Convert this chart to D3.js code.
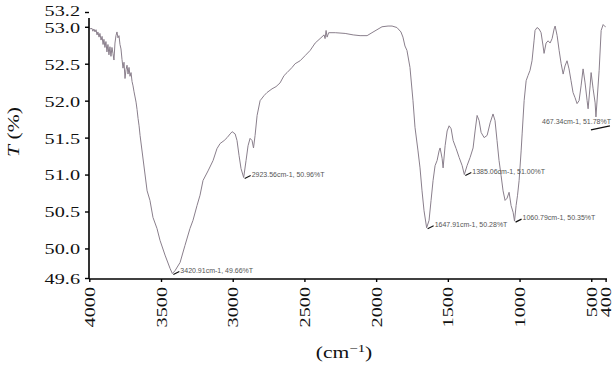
<!DOCTYPE html>
<html><head><meta charset="utf-8">
<script src="https://cdn.jsdelivr.net/npm/d3@7"></script>
<style>
html,body{margin:0;padding:0;background:#fff;}
svg{display:block;}
</style></head>
<body>
<svg id="c" width="613" height="368"></svg>
<script>
// ---- data ----
const wavenumber = [4000,3990,3982,3975,3968,3960,3953,3946,3940,3932,3926,3918,3911,3904,3898,3891,3884,3877,3870,3863,3856,3849,3842,3835,3828,3821,3814,3807,3800,3793,3786,3779,3772,3765,3758,3751,3744,3737,3730,3723,3716,3709,3702,3695,3688,3681,3674,3667,3660,3653,3646,
3597,3577,3556,3528,3507,3472,3437,3420.91,3402,3367,3333,3298,3277,3249,3228,3207,3172,3137,3110,3088,3060,3039,3018,3004,2983,2970,2956,2942,2923.56,2907,2893,2879,2865,2855,2844,2830,2809,2781,2761,2726,2698,2670,2642,2621,2586,2565,2530,2495,2460,2425,2391,2363,2356,2349,2342,2331,2285,2216,2160,2112,2063,2029,1994,1959,1917,1889,1855,1827,1813,1799,1785,1764,1743,1729,1708,1694,1680,1666,1647.91,1631,1617,1603,1589,1575,1561,1554,1540,1533,1519,1505,1491,1477,1463,1442,1421,1400,1385.06,1366,1345,1324,1310,1296,1282,1268,1247,1226,1205,1185,1171,1157,1143,1129,1115,1101,1087,1073,1059,1045,1035,1024,1014,1003,989,982,968,954,941,927,913,899,892,878,864,850,836,829,815,801,787,773,759,752,738,724,710,696,683,669,655,641,627,613,599,585,571,557,543,529,522,508,501,487,473,467.34,445,431,417,403,400];
const transmittance = [52.99,52.97,52.98,52.94,52.97,52.93,52.96,52.89,52.93,52.86,52.91,52.82,52.87,52.76,52.83,52.72,52.80,52.66,52.76,52.62,52.73,52.60,52.72,52.64,52.55,52.78,52.88,52.93,52.85,52.88,52.76,52.70,52.56,52.44,52.52,52.30,52.42,52.48,52.36,52.45,52.33,52.38,52.26,52.20,52.12,52.05,51.98,51.88,51.76,51.66,51.53,
50.78,50.65,50.42,50.27,50.11,49.91,49.73,49.66,49.70,49.81,50.04,50.27,50.38,50.58,50.72,50.92,51.05,51.19,51.35,51.42,51.46,51.50,51.55,51.58,51.55,51.46,51.26,51.08,50.96,51.19,51.39,51.49,51.46,51.36,51.53,51.80,52.00,52.07,52.11,52.16,52.19,52.24,52.34,52.38,52.45,52.50,52.54,52.61,52.68,52.78,52.84,52.89,52.84,52.95,52.86,52.92,52.92,52.91,52.89,52.88,52.88,52.92,52.96,53.00,53.01,53.01,52.99,52.93,52.86,52.74,52.68,52.45,52.00,51.64,51.32,51.09,50.78,50.51,50.28,50.38,50.65,50.92,51.12,51.19,51.32,51.36,51.22,51.09,51.39,51.59,51.66,51.62,51.46,51.35,51.23,51.12,51.00,51.12,51.23,51.36,51.59,51.80,51.73,51.57,51.50,51.53,51.70,51.82,51.73,51.46,51.19,50.99,50.78,50.65,50.68,50.76,50.58,50.49,50.37,50.58,50.72,50.92,51.32,51.55,52.00,52.27,52.34,52.41,52.54,52.81,52.95,52.99,52.97,52.92,52.74,52.64,52.78,52.81,52.78,52.84,52.97,53.01,52.88,52.68,52.50,52.36,52.47,52.54,52.43,52.27,52.11,52.04,51.96,52.00,52.20,52.43,52.24,52.00,51.89,52.20,52.38,52.16,51.97,51.78,52.41,52.95,53.03,53.00,53.00];

const peakWave = [3420.91, 2923.56, 1647.91, 1060.79, 1385.06, 467.34];
const peakT    = [49.66, 50.96, 50.28, 50.35, 51.00, 51.78];
const peakPlotWave = [3420.91, 2923.56, 1647.91, 1035, 1385.06, 467.34];
const peakPlotT    = [49.66, 50.96, 50.28, 50.37, 51.00, 51.78];
const peakLabel = ["3420.91cm-1, 49.66%T","2923.56cm-1, 50.96%T","1647.91cm-1, 50.28%T","1060.79cm-1, 50.35%T","1385.06cm-1, 51.00%T","467.34cm-1, 51.78%T"];

const xTicks = [4000,3500,3000,2500,2000,1500,1000,500,400];
const yTicks = [49.6,50.0,50.5,51.0,51.5,52.0,52.5,53.0,53.2];

// ---- chart ----
const svg = d3.select("#c");
const x = d3.scaleLinear().domain([4000,400]).range([89.3,605.6]);
const y = d3.scaleLinear().domain([49.6,53.2]).range([278,12]);
const SX = 1.35;
const serif = "'Liberation Serif','Times New Roman',serif";

// curve
svg.append("path")
  .datum(wavenumber.map((w,i)=>[w,transmittance[i]]))
  .attr("fill","none")
  .attr("stroke","#8a7f8c")
  .attr("stroke-width",1)
  .attr("stroke-linejoin","round")
  .attr("d", d3.line().x(d=>x(d[0])).y(d=>y(d[1])));

// annotations
const ann = svg.append("g");
const annFont = "'Liberation Sans',Arial,sans-serif";
peakPlotWave.forEach((w,i)=>{
  const px = x(w), py = y(peakPlotT[i]);
  const last = i === peakPlotWave.length-1;
  if(!last){
    ann.append("line").attr("x1",px+1).attr("y1",py+1).attr("x2",px+7).attr("y2",py-2)
      .attr("stroke","#111").attr("stroke-width",1.2);
    ann.append("text").attr("x",px+8).attr("y",py-1)
      .attr("font-family",annFont).attr("font-size",7)
      .attr("fill","#555").text(peakLabel[i]);
  } else {
    ann.append("line").attr("x1",px-5).attr("y1",py+13).attr("x2",px+14).attr("y2",py+9)
      .attr("stroke","#111").attr("stroke-width",1.2);
    ann.append("text").attr("x",px+15).attr("y",py+7).attr("text-anchor","end")
      .attr("font-family",annFont).attr("font-size",7)
      .attr("fill","#555").text(peakLabel[i]);
  }
});

// y axis
const yAxis = svg.append("g").attr("transform","translate(89,0)")
  .call(d3.axisLeft(y).tickValues(yTicks).tickFormat(d3.format(".1f")).tickSize(4).tickSizeOuter(0));
yAxis.select(".domain").attr("stroke","#000").attr("stroke-width",1.6).attr("d","M0,18V279");
yAxis.selectAll(".tick line").attr("stroke","#000").attr("stroke-width",1.4);
yAxis.selectAll(".tick text")
  .attr("font-family",serif).attr("font-size",15).attr("fill","#111")
  .attr("x",-9/SX).attr("dy",d => d === 53.2 ? "0.2em" : "0.36em")
  .attr("transform",`scale(${SX},1)`);

// x axis
const xAxis = svg.append("g").attr("transform","translate(0,279)")
  .call(d3.axisBottom(x).tickValues(xTicks).tickFormat(d3.format("d")).tickSize(3).tickSizeOuter(0));
xAxis.select(".domain").attr("stroke","#000").attr("stroke-width",1.6).attr("d","M89,0H607");
xAxis.selectAll(".tick line").attr("stroke","#000").attr("stroke-width",1.4);
xAxis.selectAll(".tick text")
  .attr("font-family",serif).attr("font-size",15).attr("fill","#111")
  .attr("text-anchor","end").attr("y",0).attr("dy",0)
  .attr("transform",`translate(0,8) rotate(-90) scale(${SX},1) translate(0,5)`);

// axis titles
svg.append("text")
  .attr("transform",`translate(19,132) rotate(-90) scale(${SX},1)`)
  .attr("text-anchor","middle").attr("font-family",serif).attr("font-size",16).attr("fill","#111")
  .html('<tspan font-style="italic">T</tspan> (%)');
const xt = svg.append("text")
  .attr("transform",`translate(344,358) scale(${SX},1)`)
  .attr("text-anchor","middle").attr("font-family",serif).attr("font-size",16).attr("fill","#111");
xt.append("tspan").text("(cm");
xt.append("tspan").attr("dy",-6).attr("font-size",11).text("\u22121");
xt.append("tspan").attr("dy",6).text(")");
</script>
</body></html>
